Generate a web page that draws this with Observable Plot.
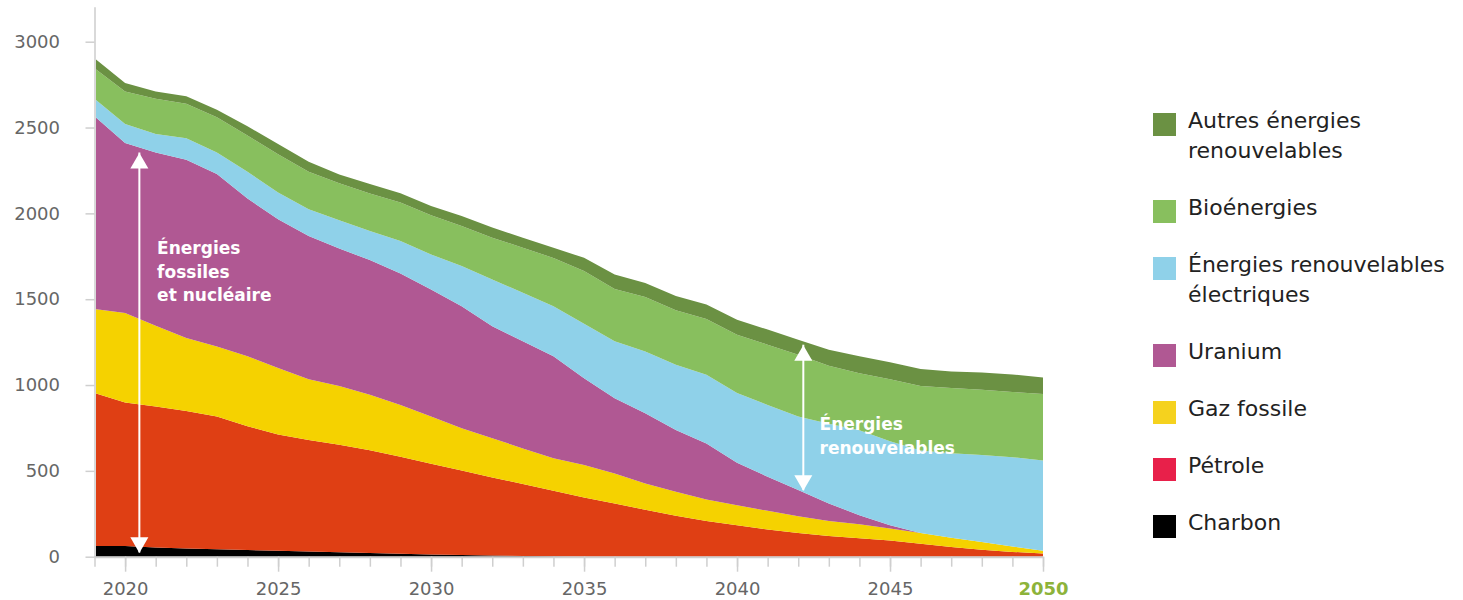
<!DOCTYPE html>
<html>
<head>
<meta charset="utf-8">
<script src="https://cdn.jsdelivr.net/npm/d3@7"></script>
<script src="https://cdn.jsdelivr.net/npm/@observablehq/plot@0.6"></script>
<style>
  body { margin: 0; background: #fff; font-family: "DejaVu Sans", sans-serif; }
  #wrap { position: relative; width: 1463px; height: 600px; overflow: hidden; }
  #chart { position: absolute; left: 0; top: 0; }
  #legend { position: absolute; left: 1153px; top: 106px; }
  .item { display: flex; align-items: flex-start; margin-bottom: 27px; }
  .sw { width: 23px; height: 23px; margin-top: 7px; margin-right: 12px; flex: none; }
  .lab { font-size: 22px; line-height: 30px; color: #222; white-space: pre-line; }
</style>
</head>
<body>
<div id="wrap"><div id="chart"></div><div id="legend"></div></div>
<script>
// ---------- data ----------
const years = d3.range(2019, 2051);
const energies = ["Charbon", "Pétrole", "Gaz fossile", "Uranium",
  "Énergies renouvelables électriques", "Bioénergies", "Autres énergies renouvelables"];
const legendLabels = ["Charbon", "Pétrole", "Gaz fossile", "Uranium",
  "Énergies renouvelables\nélectriques", "Bioénergies", "Autres énergies\nrenouvelables"];

const charbon = [62,62,54,48,44,39,35,31,26,21,17,13,10,7,4,2,0,0,0,0,0,0,0,0,0,0,0,0,0,0,0,0];
const petrole = [891,836,821,801,772,721,677,649,626,599,565,529,492,455,419,382,345,310,273,238,208,183,158,138,120,108,94,76,57,40,28,18];
const gaz = [490,522,471,425,409,407,387,354,343,323,302,274,246,228,208,189,189,175,154,140,125,117,109,98,88,81,70,62,54,46,32,17];
const uranium = [1123,990,1009,1038,1004,919,867,834,800,785,765,740,711,652,624,594,506,438,409,360,327,247,199,152,102,53,19,0,0,0,0,0];
const elec = [101,111,107,125,126,156,155,156,165,170,190,205,234,273,282,292,317,332,360,380,400,406,418,428,465,495,489,480,491,506,520,525];
const bio = [179,189,205,201,205,211,224,218,215,218,224,228,234,243,263,281,307,305,317,318,325,340,351,361,337,332,362,377,380,380,380,388];
const autres = [58,50,43,44,44,54,59,59,52,55,54,54,58,59,58,60,77,84,82,82,84,88,88,87,94,98,98,98,97,101,102,96];

const yTicks = [0, 500, 1000, 1500, 2000, 2500, 3000];
const labeledYears = [2020, 2025, 2030, 2035, 2040, 2045];
const lastYear = [2050];

// annotations (data units)
const arrows = [
  {year: 2020.45, low: 25, high: 2355},
  {year: 2042.15, low: 387, high: 1235}
];
const notes = [
  {year: 2021.03, value: 1862, text: "Énergies\nfossiles\net nucléaire"},
  {year: 2042.68, value: 837, text: "Énergies\nrenouvelables"}
];

// ---------- styles ----------
const chartColors = ["#000000", "#df3f14", "#f5d200", "#b05893", "#8fd1e9", "#88bf5e", "#6b9143"];
const legendColors = ["#000000", "#e8204a", "#f5d21e", "#b05893", "#8fd1e9", "#88bf5e", "#6b9143"];

const series = [charbon, petrole, gaz, uranium, elec, bio, autres];
const data = [];
energies.forEach((e, i) => years.forEach((yr, j) => data.push({year: yr, energy: e, value: series[i][j]})));

const W = 1120;
const fmt = d => String(d);
const chart = Plot.plot({
  width: W, height: 600,
  marginLeft: 94.5, marginRight: W - 1043, marginTop: 41.7, marginBottom: 43.3,
  style: {fontFamily: "DejaVu Sans, sans-serif", background: "transparent", overflow: "visible"},
  x: {domain: [2019, 2050], axis: null},
  y: {domain: [0, 3000], axis: null},
  color: {domain: energies, range: chartColors},
  marks: [
    Plot.areaY(data, {x: "year", y: "value", z: "energy", fill: "energy", order: energies, curve: "linear"}),
    Plot.ruleX([2019], {y1: 0, y2: 3200, stroke: "#d9d9d9", strokeWidth: 2}),
    Plot.ruleY([0], {x1: 2019, x2: 2050, stroke: "#cfcfcf", strokeWidth: 2}),
    Plot.axisY({ticks: yTicks, label: null, tickSize: 9, tickPadding: 26, stroke: "#cfcfcf", strokeWidth: 1.5, fill: "#666", fontSize: 18, tickFormat: fmt}),
    Plot.axisX({ticks: years, label: null, tickSize: 10, tickFormat: () => "", stroke: "#cfcfcf", strokeWidth: 1.5}),
    Plot.axisX({ticks: labeledYears, label: null, tickSize: 15, tickPadding: 10, stroke: "#cfcfcf", strokeWidth: 1.5, fill: "#666", fontSize: 18, tickFormat: fmt}),
    Plot.axisX({ticks: lastYear, label: null, tickSize: 15, tickPadding: 10, stroke: "#cfcfcf", strokeWidth: 1.5, fill: "#8db33a", fontWeight: "bold", fontSize: 18, tickFormat: fmt}),
    // arrows
    Plot.ruleX(arrows, {x: "year", y1: "low", y2: "high", stroke: "white", strokeWidth: 2}),
    Plot.dot(arrows, {x: "year", y: "high", symbol: "triangle", r: 6.7, fill: "white", stroke: null, dy: 10.4}),
    Plot.dot(arrows, {x: "year", y: "low", symbol: "triangle", r: 6.7, fill: "white", stroke: null, rotate: 180, dy: -10.4}),
    Plot.text(notes, {x: "year", y: "value", text: "text", lineHeight: 1.38, textAnchor: "start", lineAnchor: "top",
      fill: "white", fontWeight: "bold", fontSize: 17})
  ]
});
document.getElementById("chart").appendChild(chart);

// ---------- legend ----------
const legend = document.getElementById("legend");
for (let i = energies.length - 1; i >= 0; i--) {
  const item = document.createElement("div");
  item.className = "item";
  const sw = document.createElement("div");
  sw.className = "sw";
  sw.style.background = legendColors[i];
  const lab = document.createElement("div");
  lab.className = "lab";
  lab.textContent = legendLabels[i];
  item.appendChild(sw);
  item.appendChild(lab);
  legend.appendChild(item);
}
</script>
</body>
</html>
